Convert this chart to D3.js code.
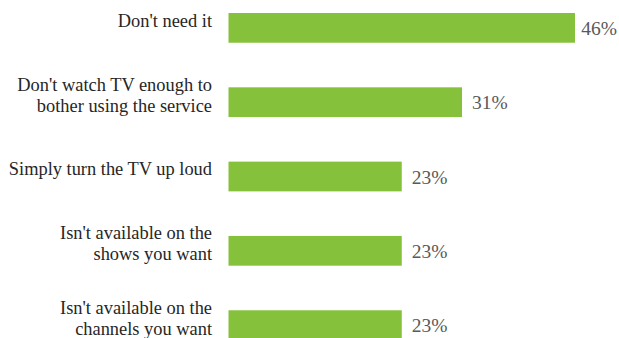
<!DOCTYPE html>
<html>
<head>
<meta charset="utf-8">
<script src="https://cdn.jsdelivr.net/npm/d3@7"></script>
<style>
  html, body { margin: 0; padding: 0; background: #ffffff; }
  svg { display: block; }
</style>
</head>
<body>
<svg id="chart" width="619" height="338"></svg>
<script>
// Reasons for not using the service (share of respondents, %)
const labelLines = [
  ["Don't need it"],
  ["Don't watch TV enough to", "bother using the service"],
  ["Simply turn the TV up loud"],
  ["Isn't available on the", "shows you want"],
  ["Isn't available on the", "channels you want"]
];
const values = [46, 31, 23, 23, 23];
const categories = labelLines.map(l => l.join(" "));

const width = 619;
const svg = d3.select("#chart");

const x = d3.scaleLinear().domain([0, 46]).range([228.5, 575]);
const y = d3.scaleBand().domain(categories).range([0, 353])
  .paddingInner(0.6).paddingOuter(0.175);

const fontFamily = "'Liberation Serif', 'DejaVu Serif', serif";

const rows = svg.append("g").selectAll("g")
  .data(categories.map((c, i) => ({ c, v: values[i], lines: labelLines[i] })))
  .join("g");

rows.append("rect")
  .attr("x", x(0))
  .attr("y", d => y(d.c))
  .attr("width", d => x(d.v) - x(0))
  .attr("height", y.bandwidth())
  .attr("fill", "#86c13b");

// Value labels sit just past the bar end, pulled in when they would overflow the edge
rows.append("text")
  .attr("y", d => y(d.c) + 22)
  .attr("font-family", fontFamily)
  .attr("font-size", 19.5)
  .attr("fill", "#595959")
  .text(d => d.v + "%")
  .attr("x", function(d) {
    const w = this.getComputedTextLength();
    return Math.min(x(d.v) + 10, width - 2 - w);
  });

rows.append("text")
  .attr("text-anchor", "end")
  .attr("font-family", fontFamily)
  .attr("font-size", 18.4)
  .attr("fill", "#262626")
  .each(function(d) {
    const t = d3.select(this);
    const top = y(d.c);
    const start = d.lines.length === 1 ? top + 13.5 : top + 3.5;
    d.lines.forEach((line, k) => {
      t.append("tspan")
        .attr("x", 212)
        .attr("y", start + k * 21)
        .text(line);
    });
  });
</script>
</body>
</html>
